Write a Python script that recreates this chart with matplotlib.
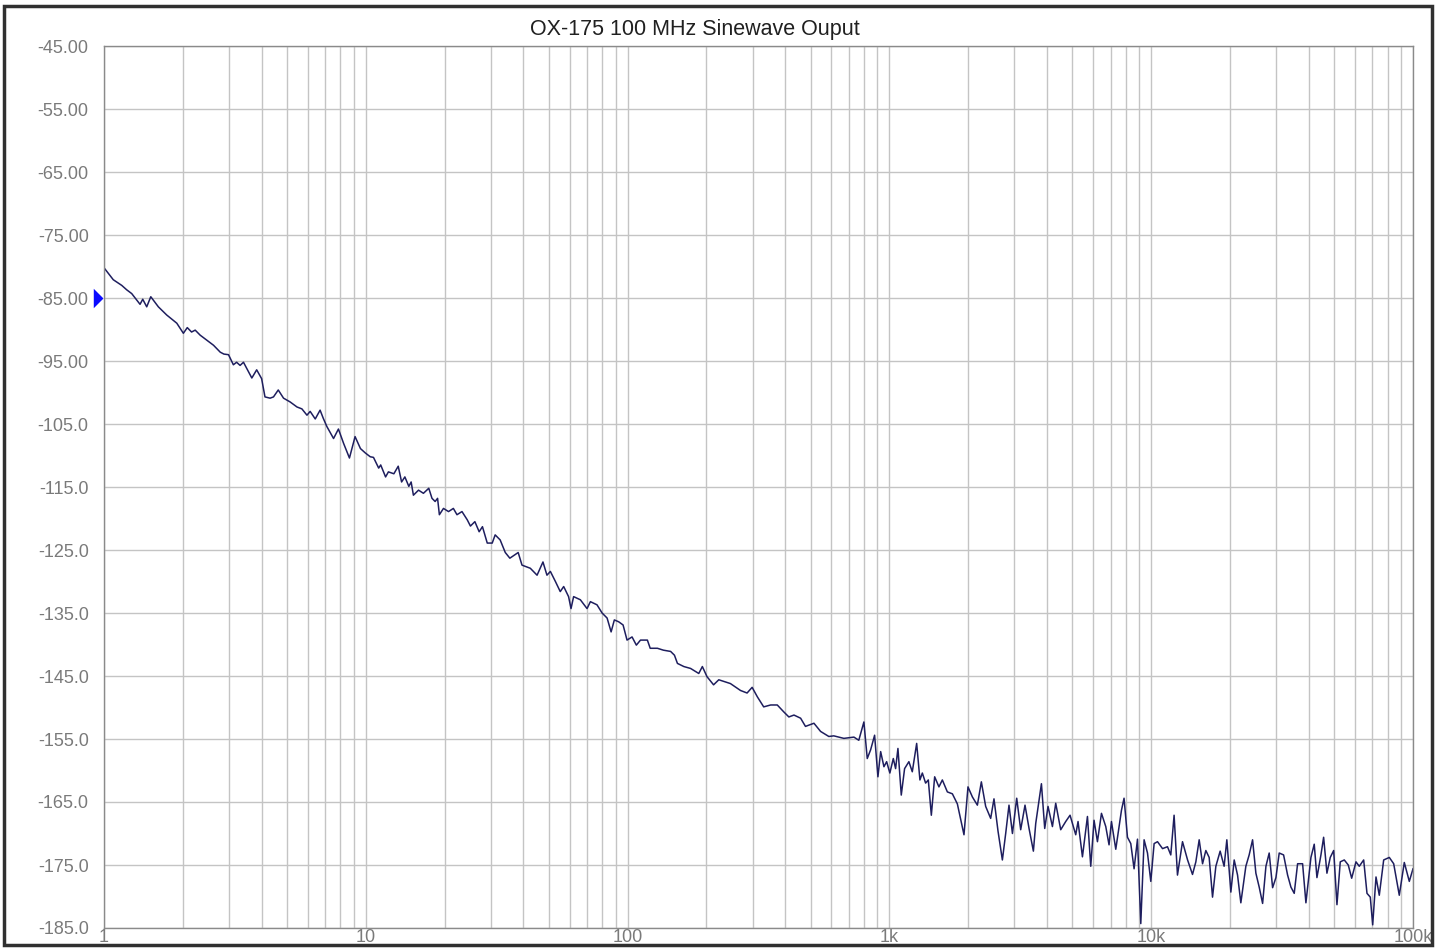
import matplotlib
matplotlib.use("Agg")
import matplotlib.pyplot as plt
from matplotlib.patches import Rectangle
from matplotlib.ticker import LogLocator, NullFormatter

# offset frequency (Hz) and phase noise (dBc/Hz)
freq_hz = [
    1.0, 1.085, 1.169, 1.221, 1.276, 1.373, 1.406, 1.456, 1.509, 1.613,
    1.736, 1.897, 2.01, 2.08, 2.16, 2.23, 2.33, 2.47, 2.62, 2.78,
    2.87, 2.99, 3.12, 3.21, 3.31, 3.41, 3.67, 3.83, 4.00, 4.12,
    4.31, 4.44, 4.63, 4.85, 5.14, 5.46, 5.70, 5.96, 6.13, 6.41,
    6.69, 6.88, 7.10, 7.53, 7.86, 8.23, 8.66, 9.10, 9.54, 9.96,
    10.4, 10.7, 11.2, 11.4, 11.9, 12.2, 12.8, 13.3, 13.7, 14.1,
    14.6, 14.9, 15.2, 15.9, 16.6, 17.4, 17.9, 18.4, 18.8, 19.1,
    19.8, 20.7, 21.6, 22.3, 23.3, 24.4, 25.1, 26.1, 27.1, 27.9,
    29.1, 30.4, 31.2, 32.6, 34.1, 35.5, 38.2, 39.5, 42.5, 45.1,
    47.5, 49.2, 50.7, 53.0, 55.3, 57.0, 59.5, 60.8, 62.2, 66.0,
    70.0, 72.1, 76.4, 79.9, 83.5, 86.5, 89.0, 92.5, 96.1, 99.5,
    104, 108, 112, 119, 122, 130, 137, 146, 151, 155,
    164, 174, 187, 193, 201, 213, 223, 247, 270, 286,
    299, 313, 331, 352, 373, 395, 413, 432, 458, 478,
    515, 546, 587, 613, 670, 732, 764, 799, 823, 848,
    878, 904, 926, 953, 976, 1004, 1035, 1056, 1078, 1110,
    1143, 1187, 1223, 1271, 1308, 1336, 1375, 1408, 1446, 1489,
    1546, 1593, 1665, 1740, 1818, 1927, 1996, 2075, 2168, 2245,
    2332, 2437, 2509, 2599, 2701, 2781, 2863, 2951, 3064, 3173,
    3296, 3415, 3548, 3622, 3808, 3920, 4036, 4195, 4318, 4512,
    4715, 4898, 5149, 5255, 5462, 5708, 5876, 6049, 6232, 6457,
    6706, 6902, 7050, 7323, 7700, 7876, 8116, 8356, 8602, 8864,
    9125, 9395, 9679, 9965, 10260, 10570, 11050, 11540, 11880, 12230,
    12600, 13170, 13770, 14380, 14810, 15250, 15710, 16170, 16650, 17150,
    17660, 18340, 18990, 19450, 20150, 20750, 21370, 22000, 22990, 23670,
    24390, 25110, 25850, 26640, 27430, 28230, 29090, 29950, 30830, 32040,
    33190, 34170, 35180, 36240, 37870, 38990, 40750, 41950, 42960, 44500,
    45560, 46910, 48300, 49770, 51230, 52740, 54640, 56590, 58310, 60560,
    62340, 64800, 66720, 68680, 70150, 72220, 74340, 77270, 81190, 84380,
    88640, 92630, 96800, 100000,
]
noise_dbc = [
    -80.2, -82.1, -83.0, -83.7, -84.3, -86.0, -85.2, -86.4, -84.8, -86.4,
    -87.7, -89.0, -90.6, -89.7, -90.4, -90.1, -90.9, -91.7, -92.5, -93.6,
    -93.9, -94.0, -95.6, -95.2, -95.7, -95.2, -97.7, -96.4, -97.8, -100.7,
    -100.9, -100.7, -99.6, -100.9, -101.5, -102.3, -102.6, -103.6, -103.0, -104.2,
    -102.8, -104.1, -105.4, -107.3, -105.8, -108.1, -110.4, -107.0, -108.9, -109.6,
    -110.2, -110.3, -112.0, -111.5, -113.4, -112.6, -112.9, -111.7, -114.2, -113.4,
    -114.9, -114.2, -116.3, -115.5, -116.0, -115.2, -116.8, -117.3, -116.8, -119.4,
    -118.4, -118.9, -118.4, -119.4, -118.9, -120.2, -121.2, -120.5, -122.1, -121.3,
    -123.9, -123.9, -122.6, -123.4, -125.4, -126.3, -125.4, -127.4, -127.9, -129.0,
    -126.9, -129.0, -128.4, -130.0, -131.6, -130.8, -132.4, -134.3, -132.4, -132.9,
    -134.3, -133.2, -133.7, -135.0, -135.8, -138.0, -136.1, -136.4, -136.9, -139.3,
    -138.8, -140.1, -139.3, -139.3, -140.6, -140.6, -140.9, -141.1, -141.7, -143.0,
    -143.5, -143.8, -144.6, -143.5, -145.1, -146.4, -145.6, -146.2, -147.3, -147.7,
    -146.8, -148.3, -149.9, -149.6, -149.6, -150.7, -151.5, -151.2, -151.7, -153.0,
    -152.5, -153.8, -154.6, -154.5, -154.9, -154.7, -155.2, -152.3, -158.1, -156.7,
    -154.4, -161.0, -157.0, -159.4, -158.6, -160.4, -158.1, -159.7, -156.5, -163.9,
    -159.7, -158.6, -160.2, -155.7, -161.5, -160.4, -162.0, -161.5, -167.1, -161.0,
    -162.6, -161.5, -163.4, -163.7, -165.3, -170.2, -162.6, -164.2, -165.5, -161.8,
    -165.7, -167.6, -164.5, -169.6, -174.2, -170.0, -165.5, -170.0, -164.4, -169.4,
    -165.5, -169.2, -172.8, -168.4, -162.1, -169.2, -165.7, -168.9, -165.2, -169.4,
    -168.1, -167.1, -170.2, -168.1, -173.7, -167.3, -175.2, -167.9, -171.3, -166.8,
    -168.9, -171.8, -168.1, -172.5, -166.3, -164.4, -170.6, -171.6, -175.6, -170.9,
    -184.3, -171.0, -173.1, -177.6, -171.6, -171.3, -172.4, -172.1, -173.4, -167.1,
    -176.6, -171.3, -174.2, -176.5, -174.5, -171.0, -174.8, -172.7, -173.8, -180.1,
    -175.2, -172.8, -175.2, -171.0, -179.3, -174.2, -176.6, -181.0, -175.2, -173.4,
    -171.0, -176.3, -178.5, -181.1, -175.2, -173.1, -178.6, -177.0, -173.1, -173.4,
    -176.6, -178.5, -179.5, -174.8, -174.8, -181.0, -173.8, -171.7, -177.0, -173.4,
    -170.6, -176.3, -173.8, -172.7, -181.3, -174.5, -174.2, -175.0, -177.1, -174.5,
    -175.2, -174.2, -179.5, -180.1, -184.5, -176.9, -179.8, -174.2, -173.8, -174.8,
    -179.8, -174.6, -177.6, -175.6,
]

y_ticks = [-45, -55, -65, -75, -85, -95, -105, -115, -125, -135, -145, -155, -165, -175, -185]
y_labels = ["-45.00", "-55.00", "-65.00", "-75.00", "-85.00", "-95.00", "-105.0", "-115.0",
            "-125.0", "-135.0", "-145.0", "-155.0", "-165.0", "-175.0", "-185.0"]
x_ticks = [1, 10, 100, 1000, 10000, 100000]
x_labels = ["1", "10", "100", "1k", "10k", "100k"]
ref_level = -85

plt.rcParams["font.family"] = ["Liberation Sans", "DejaVu Sans"]

fig = plt.figure(figsize=(14.37, 9.49), dpi=100)
ax = fig.add_axes([104 / 1437, 1 - 928 / 949, 1309 / 1437, 882 / 949])

ax.plot(freq_hz, noise_dbc, color="#1e1e5e", linewidth=1.1)

ax.set_xscale("log")
ax.set_xlim(1, 100000)
ax.set_ylim(-185, -45)

ax.set_xticks(x_ticks)
ax.set_xticklabels(x_labels)
ax.xaxis.set_minor_locator(LogLocator(base=10, subs=range(2, 10), numticks=20))
ax.xaxis.set_minor_formatter(NullFormatter())
ax.set_yticks(y_ticks)
ax.set_yticklabels(y_labels)

ax.tick_params(which="both", length=0, colors="#7a7a7a", labelsize=13)
ax.tick_params(axis="x", pad=1)
ax.tick_params(axis="y", pad=11)

ax.grid(which="major", color="#c4c4c4", linewidth=1.0)
ax.grid(which="minor", axis="x", color="#c4c4c4", linewidth=1.0)
ax.set_axisbelow(True)
for side in ax.spines.values():
    side.set_color("#8a8a8a")
    side.set_linewidth(1.0)

# reference-level marker just left of the axis (tip points at the plot)
tri = [(-1, -1), (0, 0), (-1, 1), (-1, -1)]
ax.plot([-0.001], [ref_level], marker=tri, color="#0a0aff", markersize=14,
        markeredgewidth=0, transform=ax.get_yaxis_transform(), clip_on=False)

fig.text(695 / 1437, 1 - 29 / 949, "OX-175 100 MHz Sinewave Ouput",
         ha="center", va="center", fontsize=15.5, color="#202020")

# window frame
fig.add_artist(Rectangle((4 / 1437, 4 / 949), 1428 / 1437, 939 / 949,
                         transform=fig.transFigure, fill=False,
                         edgecolor="#303030", linewidth=2.5))

fig.savefig("out.png", dpi=100)
